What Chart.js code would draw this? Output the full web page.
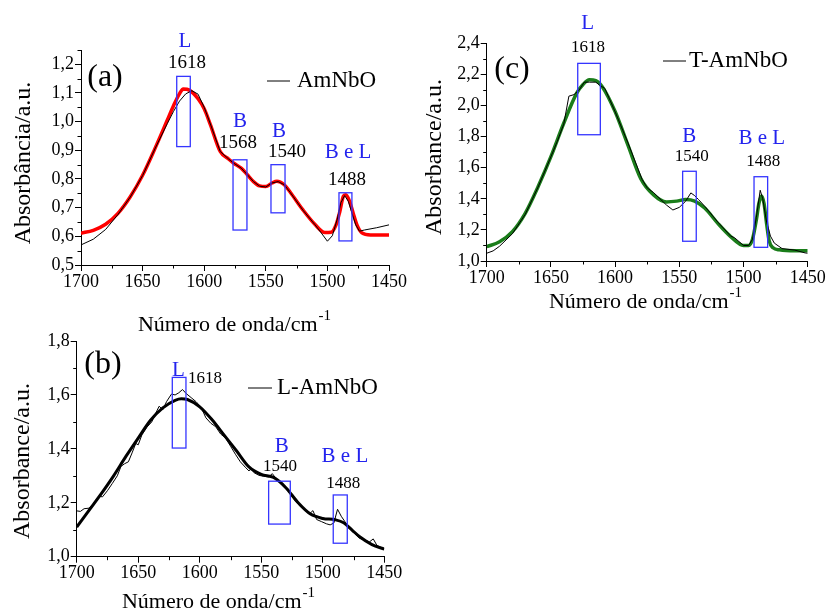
<!DOCTYPE html>
<html>
<head>
<meta charset="utf-8">
<script src="https://cdn.jsdelivr.net/npm/chart.js@4.4.0/dist/chart.umd.min.js"></script>
<style>
  body { margin: 0; background: #fff; width: 826px; height: 612px; overflow: hidden; }
  canvas { position: absolute; left: 0; top: 0; }
</style>
</head>
<body>
<canvas id="panelA" width="826" height="612"></canvas>
<canvas id="panelB" width="826" height="612"></canvas>
<canvas id="panelC" width="826" height="612"></canvas>
<script>
const SERIF = '"Liberation Serif", "Times New Roman", serif'
const BLUE = '#3535ff'

// shared x axis (wavenumber, cm-1)
const xTicks = [1450, 1500, 1550, 1600, 1650, 1700]

// (a) AmNbO
const yTicksA = [0.5, 0.6, 0.7, 0.8, 0.9, 1.0, 1.1, 1.2]
const waveRawA = [1700, 1690, 1680, 1670, 1660, 1650, 1640, 1630, 1625, 1620, 1615, 1610, 1605, 1600, 1595, 1587, 1580, 1576, 1570, 1565, 1560, 1555, 1550, 1545, 1540, 1535, 1530, 1520, 1510, 1505, 1500, 1496, 1492, 1489, 1486, 1483, 1480, 1477, 1474, 1470, 1460, 1450]
const rawA = [0.570, 0.590, 0.624, 0.676, 0.737, 0.812, 0.905, 0.993, 1.035, 1.072, 1.097, 1.108, 1.096, 1.050, 0.992, 0.896, 0.869, 0.855, 0.838, 0.815, 0.791, 0.775, 0.772, 0.786, 0.791, 0.780, 0.752, 0.692, 0.640, 0.612, 0.583, 0.602, 0.660, 0.718, 0.742, 0.722, 0.680, 0.640, 0.618, 0.622, 0.630, 0.640]
const waveFitA = [1700, 1690, 1680, 1670, 1660, 1650, 1640, 1630, 1625, 1620, 1617, 1612, 1605, 1600, 1595, 1587, 1580, 1576, 1570, 1565, 1560, 1555, 1550, 1545, 1541, 1535, 1530, 1520, 1510, 1502, 1497, 1493, 1490, 1487, 1485, 1482, 1479, 1476, 1472, 1465, 1450]
const fitA = [0.611, 0.621, 0.642, 0.680, 0.738, 0.813, 0.906, 1.005, 1.055, 1.098, 1.114, 1.110, 1.080, 1.045, 0.990, 0.896, 0.869, 0.855, 0.838, 0.815, 0.791, 0.776, 0.774, 0.786, 0.792, 0.780, 0.753, 0.693, 0.641, 0.613, 0.614, 0.640, 0.685, 0.740, 0.745, 0.722, 0.680, 0.640, 0.612, 0.605, 0.605]
// marked bands: [wavenumber from, to, absorbance from, to]
const bandsA = [[1622.3, 1611.3, 0.913, 1.158], [1576.6, 1565.3, 0.622, 0.867], [1545.8, 1534.4, 0.682, 0.850], [1490.6, 1480.1, 0.584, 0.752]]
const notesA = [['L', 1615.6, 1.280], ['1618', 1614, 1.206], ['B', 1570.9, 1.000], ['1568', 1572.6, 0.927], ['B', 1539.3, 0.965], ['1540', 1532.8, 0.895], ['B e L', 1483.3, 0.892], ['1488', 1484.1, 0.797]]

// (b) L-AmNbO
const yTicksB = [1.0, 1.2, 1.4, 1.6, 1.8]
const waveRawB = [1700, 1697, 1694, 1690, 1687, 1684, 1682, 1679, 1675, 1671, 1667, 1664, 1661, 1658, 1655, 1652, 1650, 1647, 1643, 1639, 1636, 1633, 1630, 1627, 1623, 1620, 1617, 1614, 1611, 1607, 1603, 1599, 1595, 1591, 1587, 1583, 1579, 1575, 1571, 1567, 1563, 1560, 1558, 1556, 1552, 1548, 1544, 1541, 1538, 1534, 1530, 1526, 1522, 1518, 1514, 1511, 1508, 1505, 1501, 1497, 1494, 1491, 1488, 1485, 1482, 1478, 1474, 1470, 1466, 1462, 1459, 1456, 1453, 1450]
const rawB = [1.170, 1.168, 1.178, 1.180, 1.192, 1.212, 1.224, 1.222, 1.245, 1.272, 1.300, 1.335, 1.345, 1.352, 1.385, 1.420, 1.415, 1.452, 1.480, 1.500, 1.530, 1.558, 1.545, 1.575, 1.603, 1.600, 1.608, 1.620, 1.605, 1.590, 1.575, 1.555, 1.515, 1.495, 1.482, 1.455, 1.440, 1.410, 1.380, 1.352, 1.332, 1.318, 1.328, 1.312, 1.302, 1.298, 1.296, 1.308, 1.290, 1.276, 1.255, 1.230, 1.205, 1.185, 1.170, 1.158, 1.171, 1.138, 1.130, 1.122, 1.118, 1.125, 1.176, 1.150, 1.130, 1.105, 1.085, 1.068, 1.062, 1.055, 1.066, 1.042, 1.035, 1.030]
const waveFitB = [1700, 1690, 1680, 1670, 1660, 1650, 1640, 1630, 1620, 1615, 1610, 1600, 1590, 1580, 1570, 1560, 1550, 1540, 1530, 1520, 1510, 1500, 1490, 1483, 1476, 1470, 1460, 1450]
const fitB = [1.110, 1.172, 1.234, 1.300, 1.372, 1.440, 1.506, 1.552, 1.580, 1.586, 1.583, 1.556, 1.508, 1.450, 1.392, 1.333, 1.305, 1.294, 1.256, 1.200, 1.158, 1.142, 1.137, 1.126, 1.098, 1.074, 1.045, 1.028]
const bandsB = [[1622.3, 1611.2, 1.403, 1.665], [1544.0, 1526.4, 1.121, 1.280], [1491.5, 1480.1, 1.050, 1.229]]
const notesB = [['L', 1617.4, 1.692], ['1618', 1595.7, 1.662], ['B', 1533.4, 1.408], ['1540', 1534.8, 1.334], ['B e L', 1482.0, 1.371], ['1488', 1483.4, 1.272]]

// (c) T-AmNbO
const yTicksC = [1.0, 1.2, 1.4, 1.6, 1.8, 2.0, 2.2, 2.4]
const waveRawC = [1700, 1695, 1690, 1680, 1670, 1660, 1650, 1645, 1640, 1636, 1632, 1628, 1624, 1620, 1615, 1612, 1608, 1600, 1590, 1582, 1579, 1575, 1570, 1565, 1560, 1555, 1550, 1545, 1541, 1538, 1535, 1530, 1520, 1510, 1507, 1500, 1496, 1493, 1490, 1487, 1485, 1482, 1479, 1476, 1470, 1460, 1452, 1450]
const rawC = [1.050, 1.065, 1.095, 1.175, 1.300, 1.475, 1.670, 1.770, 1.880, 2.060, 2.070, 2.100, 2.150, 2.150, 2.150, 2.130, 2.110, 1.960, 1.760, 1.590, 1.525, 1.470, 1.440, 1.400, 1.360, 1.328, 1.345, 1.385, 1.438, 1.420, 1.395, 1.350, 1.250, 1.160, 1.150, 1.100, 1.100, 1.140, 1.280, 1.455, 1.400, 1.250, 1.160, 1.115, 1.080, 1.070, 1.052, 1.050]
const waveFitC = [1700, 1690, 1680, 1670, 1660, 1650, 1640, 1630, 1625, 1620, 1615, 1610, 1600, 1590, 1580, 1570, 1560, 1552, 1545, 1538, 1530, 1520, 1510, 1500, 1496, 1493, 1490, 1488, 1486, 1484, 1482, 1480, 1477, 1472, 1460, 1450]
const fitC = [1.092, 1.124, 1.189, 1.307, 1.478, 1.671, 1.886, 2.078, 2.135, 2.165, 2.160, 2.121, 1.961, 1.745, 1.530, 1.425, 1.380, 1.385, 1.395, 1.385, 1.339, 1.242, 1.157, 1.100, 1.100, 1.140, 1.264, 1.370, 1.418, 1.370, 1.240, 1.130, 1.085, 1.072, 1.066, 1.066]
const bandsC = [[1629.1, 1611.5, 1.812, 2.271], [1547.4, 1536.8, 1.127, 1.577], [1491.8, 1481.2, 1.088, 1.542]]
const notesC = [['L', 1621.3, 2.529], ['1618', 1621.1, 2.370], ['B', 1542.2, 1.799], ['1540', 1540.3, 1.671], ['B e L', 1485.8, 1.789], ['1488', 1484.6, 1.639]]

const zip = (ws, vs) => ws.map((w, i) => ({ x: w, y: vs[i] }))
const comma = v => v.toFixed(1).replace('.', ',')

// axis titles, legends, boxes and minor ticks
const decor = {
  id: 'decor',
  afterDraw(chart, args, o) {
    const ctx = chart.ctx, xs = chart.scales.x, ys = chart.scales.y, a = chart.chartArea
    ctx.save()
    ctx.strokeStyle = '#000'
    ctx.lineWidth = 1
    ctx.beginPath()
    for (let i = 0; i <= 10; i++) {
      if (i % 2 === 0) continue
      const x = Math.round(xs.getPixelForValue(1450 + i * 25)) + 0.5
      ctx.moveTo(x, a.bottom); ctx.lineTo(x, a.bottom + 3.5)
    }
    const n = Math.round((ys.max - ys.min) / o.minor)
    for (let i = 1; i <= n; i += 2) {
      const y = Math.round(ys.getPixelForValue(ys.min + i * o.minor)) + 0.5
      ctx.moveTo(a.left, y); ctx.lineTo(a.left - 3.5, y)
    }
    ctx.stroke()

    ctx.strokeStyle = BLUE
    ctx.lineWidth = 1.3
    o.bands.forEach(b => {
      const x1 = xs.getPixelForValue(b[0]), x2 = xs.getPixelForValue(b[1])
      const y1 = ys.getPixelForValue(b[2]), y2 = ys.getPixelForValue(b[3])
      ctx.strokeRect(Math.min(x1, x2), Math.min(y1, y2), Math.abs(x2 - x1), Math.abs(y2 - y1))
    })

    ctx.textAlign = 'center'
    ctx.textBaseline = 'middle'
    o.notes.forEach(([t, w, v]) => {
      const isNum = /^\d+$/.test(t)
      ctx.fillStyle = isNum ? '#000' : '#2323ee'
      ctx.font = (isNum ? o.numFont : 21) + 'px ' + SERIF
      ctx.fillText(t, xs.getPixelForValue(w), ys.getPixelForValue(v))
    })

    ctx.fillStyle = '#000'
    ctx.font = '32px ' + SERIF
    ctx.fillText(o.letter[0], o.letter[1], o.letter[2])

    // legend
    const L = o.legend
    ctx.strokeStyle = '#000'
    ctx.lineWidth = 1
    ctx.beginPath(); ctx.moveTo(L[1], L[3]); ctx.lineTo(L[2], L[3]); ctx.stroke()
    ctx.textAlign = 'left'
    ctx.font = '23px ' + SERIF
    ctx.fillText(L[0], L[4], L[3])

    // x title with superscript
    const main = 'Número de onda/cm', sup = '-1'
    ctx.font = '22px ' + SERIF
    const wm = ctx.measureText(main).width
    ctx.font = '15px ' + SERIF
    const wsup = ctx.measureText(sup).width
    const x0 = o.xTitle[0] - (wm + wsup) / 2
    ctx.font = '22px ' + SERIF
    ctx.fillText(main, x0, o.xTitle[1])
    ctx.font = '15px ' + SERIF
    ctx.fillText(sup, x0 + wm + 1, o.xTitle[1] - 9)

    // y title
    ctx.translate(o.yTitle[1], o.yTitle[2])
    ctx.rotate(-Math.PI / 2)
    ctx.textAlign = 'center'
    ctx.font = '24px ' + SERIF
    ctx.fillText(o.yTitle[0], 0, 0)
    ctx.restore()
  }
}

const AXIS_W = 50   // room kept for y tick labels
const AXIS_H = 30   // room kept for x tick labels

function panel(id, p) {
  const tickFont = { family: SERIF, size: 18 }
  const r = p.area
  new Chart(document.getElementById(id), {
    type: 'line',
    data: {
      datasets: [
        { data: zip(p.rawWave, p.raw), borderColor: '#000', borderWidth: 1, tension: 0, pointRadius: 0 },
        { data: zip(p.fitWave, p.fit), borderColor: p.fitColor, borderWidth: p.fitWidth, tension: 0.4, cubicInterpolationMode: 'monotone', pointRadius: 0 }
      ]
    },
    options: {
      responsive: false,
      animation: false,
      events: [],
      layout: { padding: { left: r.left - AXIS_W, top: r.top, right: 826 - r.right, bottom: 612 - r.bottom - AXIS_H } },
      plugins: {
        legend: { display: false },
        tooltip: { enabled: false },
        decor: p.decor
      },
      scales: {
        x: {
          type: 'linear', reverse: true, min: 1450, max: 1700,
          afterFit: s => { s.height = AXIS_H },
          afterBuildTicks: s => { s.ticks = xTicks.map(v => ({ value: v })) },
          grid: { drawOnChartArea: false, tickLength: 6, color: '#000' },
          border: { color: '#000', width: 1 },
          ticks: { font: tickFont, color: '#000', padding: 0, maxRotation: 0, minRotation: 0, autoSkip: false, callback: v => String(v) }
        },
        y: {
          type: 'linear', min: p.yMin, max: p.yMax,
          afterFit: s => { s.width = AXIS_W },
          afterBuildTicks: s => { s.ticks = p.yTicks.map(v => ({ value: v })) },
          grid: { drawOnChartArea: false, tickLength: 6, color: '#000' },
          border: { color: '#000', width: 1 },
          ticks: { font: tickFont, color: '#000', padding: 1, callback: v => comma(v) }
        }
      }
    },
    plugins: [decor]
  })
}

panel('panelA', {
  rawWave: waveRawA, raw: rawA, fitWave: waveFitA, fit: fitA,
  fitColor: '#ff0000', fitWidth: 3.5,
  yMin: 0.5, yMax: 1.25, yTicks: yTicksA,
  area: { left: 81, top: 50, right: 389, bottom: 265 },
  decor: {
    minor: 0.05, bands: bandsA, notes: notesA, numFont: 19,
    letter: ['(a)', 105, 78],
    legend: ['AmNbO', 267, 290, 81, 297],
    xTitle: [234, 325],
    yTitle: ['Absorbância/a.u.', 24, 163]
  }
})

panel('panelB', {
  rawWave: waveRawB, raw: rawB, fitWave: waveFitB, fit: fitB,
  fitColor: '#000', fitWidth: 3,
  yMin: 1.0, yMax: 1.8, yTicks: yTicksB,
  area: { left: 76.7, top: 341, right: 384.3, bottom: 556.7 },
  decor: {
    minor: 0.1, bands: bandsB, notes: notesB, numFont: 17,
    letter: ['(b)', 103, 365],
    legend: ['L-AmNbO', 248, 272, 388, 277],
    xTitle: [218, 602],
    yTitle: ['Absorbance/a.u.', 23, 461]
  }
})

panel('panelC', {
  rawWave: waveRawC, raw: rawC, fitWave: waveFitC, fit: fitC,
  fitColor: '#1a7d1a', fitWidth: 3.5,
  yMin: 1.0, yMax: 2.4, yTicks: yTicksC,
  area: { left: 486.7, top: 43.3, right: 807.7, bottom: 261 },
  decor: {
    minor: 0.1, bands: bandsC, notes: notesC, numFont: 17,
    letter: ['(c)', 512, 70],
    legend: ['T-AmNbO', 663, 686, 61, 689],
    xTitle: [645, 302],
    yTitle: ['Absorbance/a.u.', 435, 157]
  }
})
</script>
</body>
</html>
